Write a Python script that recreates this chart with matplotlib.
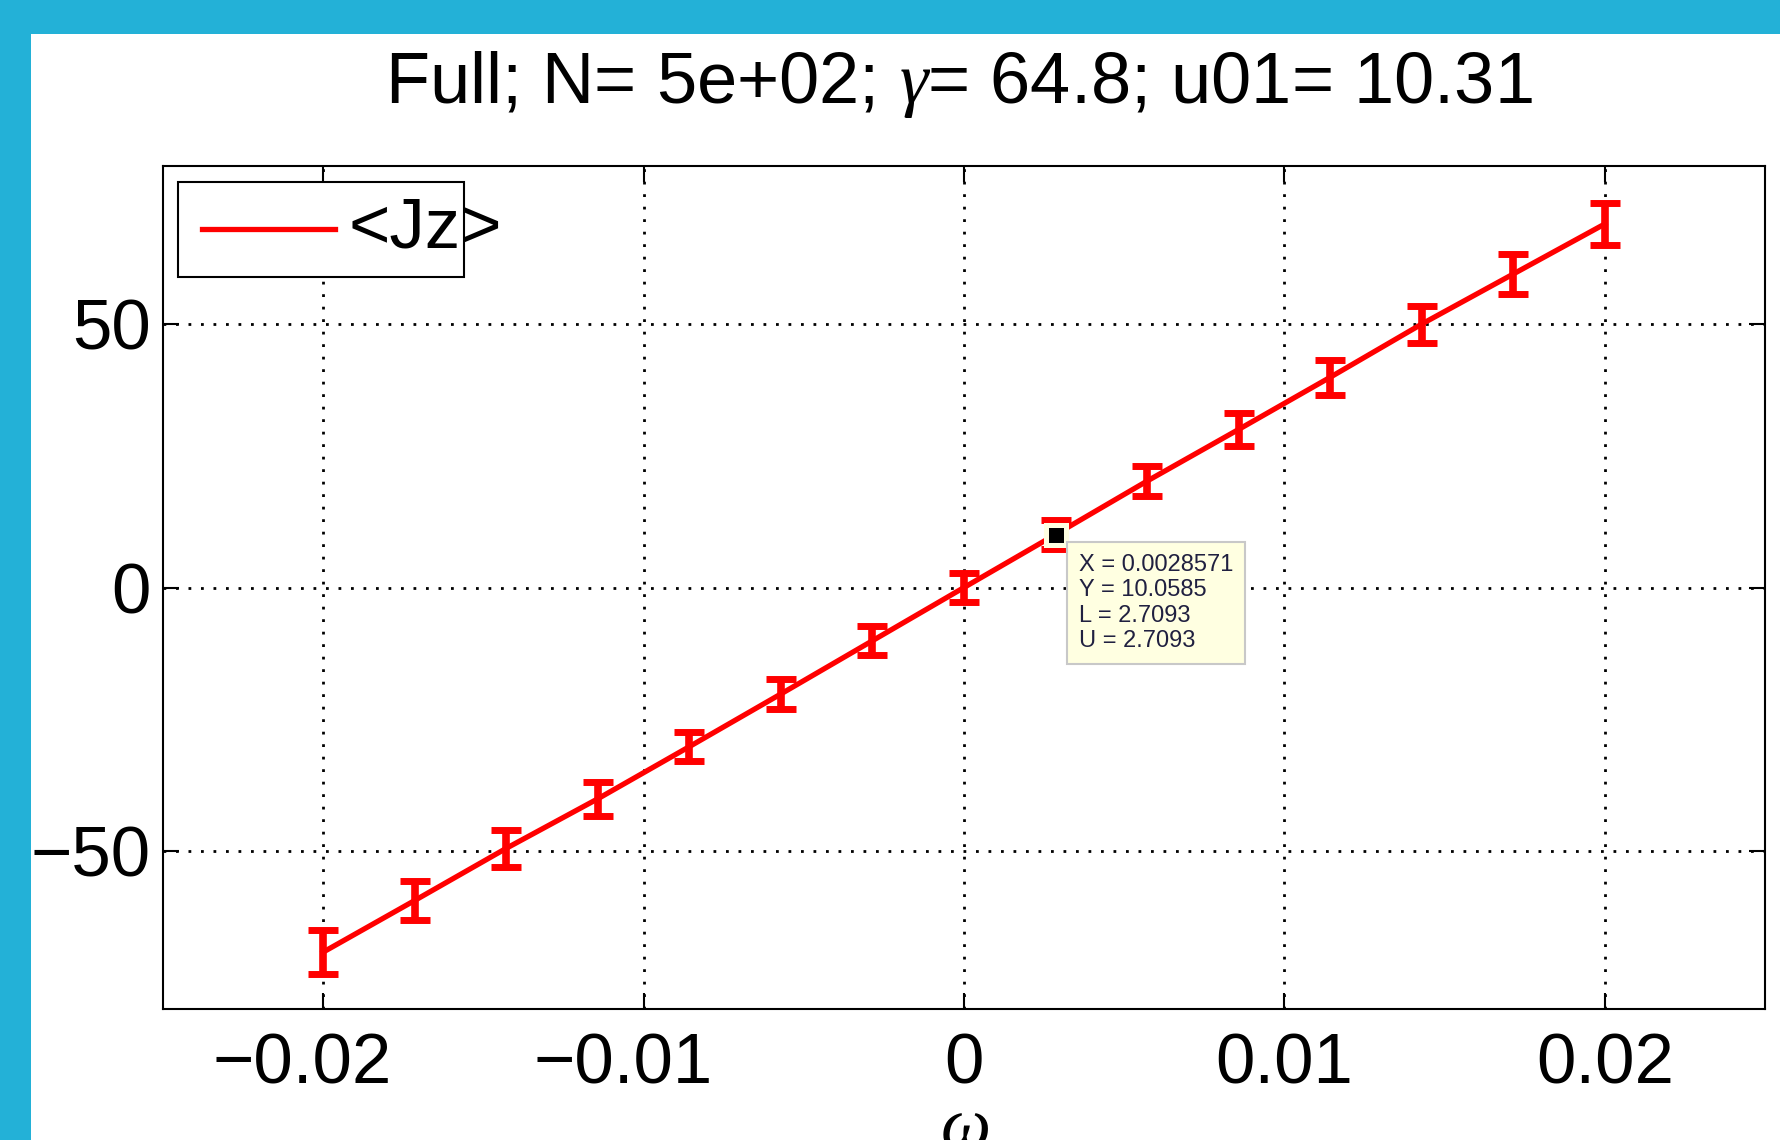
import matplotlib
matplotlib.use("Agg")
import matplotlib.pyplot as plt
from matplotlib.patches import Rectangle
from matplotlib.transforms import ScaledTranslation

plt.rcParams['font.family'] = ['Liberation Sans', 'DejaVu Sans']
plt.rcParams['mathtext.fontset'] = 'custom'
plt.rcParams['mathtext.rm'] = 'Liberation Sans'
plt.rcParams['mathtext.it'] = 'Liberation Serif:italic'

# data
omega = [-0.02, -0.0171429, -0.0142857, -0.0114286, -0.0085714, -0.0057143, -0.0028571,
         0.0, 0.0028571, 0.0057143, 0.0085714, 0.0114286, 0.0142857, 0.0171429, 0.02]
jz = [-69.2, -59.4, -49.5, -40.1, -30.2, -20.2, -10.1,
      0.0, 10.0585, 20.2, 30.0, 39.9, 50.0, 59.5, 69.0]
jz_err = [4.1, 3.7, 3.5, 3.2, 2.8, 2.8, 2.7,
          2.7, 2.7093, 2.8, 3.1, 3.3, 3.5, 3.8, 3.9]
tip_index = 8
xticks = [-0.02, -0.01, 0, 0.01, 0.02]
xticklabels = ['\u22120.02', '\u22120.01', '0', '0.01', '0.02']
yticks = [-50, 0, 50]
yticklabels = ['\u221250', '0', '50']

fig = plt.figure(figsize=(17.81, 11.40), dpi=100)
fig.patch.set_facecolor('#23b1d7')
fig.add_artist(Rectangle((31/1781, 0), 1, (1140-34)/1140, transform=fig.transFigure,
                         facecolor='white', edgecolor='none', zorder=-10))

ax = fig.add_axes([163/1781, 1-1009/1140, (1765-163)/1781, (1009-166)/1140])
ax.errorbar(omega, jz, yerr=jz_err, color='#ff0000', lw=3.8, elinewidth=5.5,
            capsize=10.5, capthick=5, zorder=3)

# datatip marker + box
ax.plot(omega[tip_index], jz[tip_index], 's', color='black', ms=15, mec='#ffffe1',
        mew=3.6, zorder=5)
tip = "X = %.7f\nY = %.4f\nL = %.4f\nU = %.4f" % (omega[tip_index], jz[tip_index],
                                                  jz_err[tip_index], jz_err[tip_index])
ax.annotate(tip, xy=(omega[tip_index], jz[tip_index]), xytext=(17, -14),
            textcoords='offset points', ha='left', va='top', fontsize=17,
            linespacing=1.2, color='#202040',
            bbox=dict(boxstyle='square,pad=0.5', fc='#ffffe1', ec='#c8c8c8', lw=1.5),
            zorder=6)

ax.set_xlim(-0.025, 0.025)
ax.set_ylim(-80, 80)
ax.set_xticks(xticks)
ax.set_xticklabels(xticklabels)
ax.set_yticks(yticks)
ax.set_yticklabels(yticklabels)
ax.tick_params(direction='in', length=11.5, width=1.5, labelsize=51,
               top=True, right=True, pad=9)
ax.tick_params(axis='x', pad=17)
# matlab centres the digits of negative labels, the minus hangs to the left
shift = ScaledTranslation(-0.292 * 51 / 72, 0, fig.dpi_scale_trans)
for lab in ax.get_xticklabels():
    if lab.get_text().startswith('\u2212'):
        lab.set_transform(lab.get_transform() + shift)
ax.grid(True, color='black', lw=2, linestyle=(0, (1, 3.5)))
for s in ax.spines.values():
    s.set_linewidth(1.5)
ax.set_xlabel(r'$\omega$', fontsize=51, labelpad=-2)

# legend drawn by hand so the label spills over the box like in the original
ax.add_patch(Rectangle((0.0094, 0.868), 0.1786, 0.113, transform=ax.transAxes,
                       facecolor='white', edgecolor='black', lw=1.5, zorder=7))
ax.plot([0.0243, 0.1074], [0.925, 0.925], color='#ff0000', lw=3.8,
        transform=ax.transAxes, zorder=8)
ax.text(0.1155, 0.925, '<Jz>', transform=ax.transAxes, fontsize=51,
        ha='left', va='center', zorder=8)

fig.text((163+1765)/2/1781 - 0.003, 1-103/1140, r'Full; N= 5e+02; $\gamma$= 64.8; u01= 10.31',
         fontsize=52, ha='center', va='baseline')

fig.savefig('out.png', dpi=100, facecolor=fig.get_facecolor())
